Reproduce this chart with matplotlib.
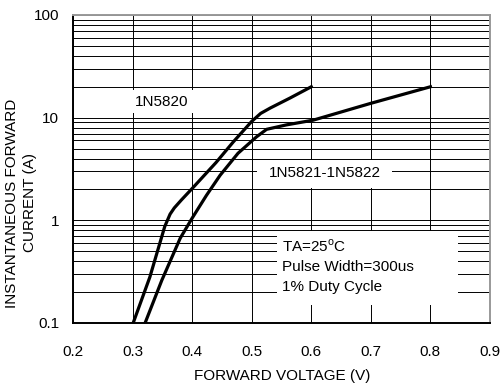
import matplotlib
matplotlib.use('Agg')
import matplotlib.pyplot as plt
from matplotlib.patches import Rectangle

plt.rcParams['font.family'] = ['Liberation Sans', 'DejaVu Sans']
plt.rcParams['mathtext.fontset'] = 'custom'
plt.rcParams['mathtext.rm'] = 'Liberation Sans'

# 1N5820 forward curve
v_5820 = [0.301, 0.329, 0.354, 0.363, 0.370, 0.382, 0.402, 0.44, 0.469, 0.50, 0.515, 0.531, 0.564, 0.60]
i_5820 = [0.10, 0.28, 0.87, 1.15, 1.32, 1.58, 2.1, 3.65, 5.8, 9.2, 11.0, 12.4, 15.5, 20.0]

# 1N5821-1N5822 forward curve
v_5821 = [0.321, 0.349, 0.38, 0.40, 0.424, 0.447, 0.477, 0.508, 0.525, 0.558, 0.603, 0.70, 0.80]
i_5821 = [0.10, 0.26, 0.67, 1.05, 1.75, 2.75, 4.5, 6.5, 7.7, 8.5, 9.45, 13.8, 20.0]

x_ticks = [0.2, 0.3, 0.4, 0.5, 0.6, 0.7, 0.8, 0.9]
y_ticks = [0.1, 1, 10, 100]
y_labels = ['0.1', '1', '10', '100']
note_lines = [r'TA=25$^\mathrm{o}$C', 'Pulse Width=300us', '1% Duty Cycle']

fs = 11

fig = plt.figure(figsize=(5.03, 3.87), dpi=100)
ax = fig.add_axes([73/503, 64/387, 417/503, 308/387])

ax.set_yscale('log')
ax.set_xlim(0.2, 0.9)
ax.set_ylim(0.1, 100)

# grid
ax.set_xticks(x_ticks)
ax.set_xticklabels([f'{t:.1f}' for t in x_ticks], fontsize=fs)
ax.set_yticks(y_ticks)
ax.set_yticklabels(y_labels, fontsize=fs)
ax.yaxis.set_minor_locator(matplotlib.ticker.LogLocator(base=10, subs=range(2, 10)))
ax.yaxis.set_minor_formatter(matplotlib.ticker.NullFormatter())
ax.tick_params(which='both', length=0)
ax.tick_params(axis='x', pad=16)
ax.tick_params(axis='y', pad=10)
ax.grid(True, which='both', axis='y', color='black', lw=0.7, zorder=1)
ax.grid(True, which='major', axis='x', color='black', lw=0.7, zorder=1)
ax.set_axisbelow(True)

for s in ['left', 'bottom']:
    ax.spines[s].set_color('black')
    ax.spines[s].set_linewidth(1.4)
for s in ['top', 'right']:
    ax.spines[s].set_color('#999999')
    ax.spines[s].set_linewidth(1.4)

# white boxes behind labels
boxes = [(0.132, 0.682, 0.165, 0.074),
         (0.4405, 0.438, 0.3245, 0.091),
         (0.489, 0.058, 0.434, 0.241)]
for bx, by, bw, bh in boxes:
    ax.add_patch(Rectangle((bx, by), bw, bh, transform=ax.transAxes,
                           facecolor='white', edgecolor='none', zorder=2))

ax.plot(v_5820, i_5820, color='black', lw=2.3, zorder=3, solid_joinstyle='round')
ax.plot(v_5821, i_5821, color='black', lw=2.3, zorder=3, solid_joinstyle='round')

ax.text(0.213, 0.716, '1N5820', transform=ax.transAxes, fontsize=fs,
        ha='center', va='center', zorder=4)
ax.text(0.604, 0.487, '1N5821-1N5822', transform=ax.transAxes, fontsize=fs,
        ha='center', va='center', zorder=4)
for k, line in enumerate(note_lines):
    ax.text(0.500, 0.250 - k*0.067, line, transform=ax.transAxes, fontsize=fs,
            ha='left', va='center', zorder=4)

fig.text(21/503, 1 - 203/387, 'INSTANTANEOUS FORWARD\nCURRENT (A)', rotation=90,
         ha='center', va='center', fontsize=fs, multialignment='center',
         linespacing=1.35)
fig.text(282/503, 1 - 376/387, 'FORWARD VOLTAGE (V)', ha='center', va='center',
         fontsize=fs)

fig.savefig('out.png', dpi=100)
